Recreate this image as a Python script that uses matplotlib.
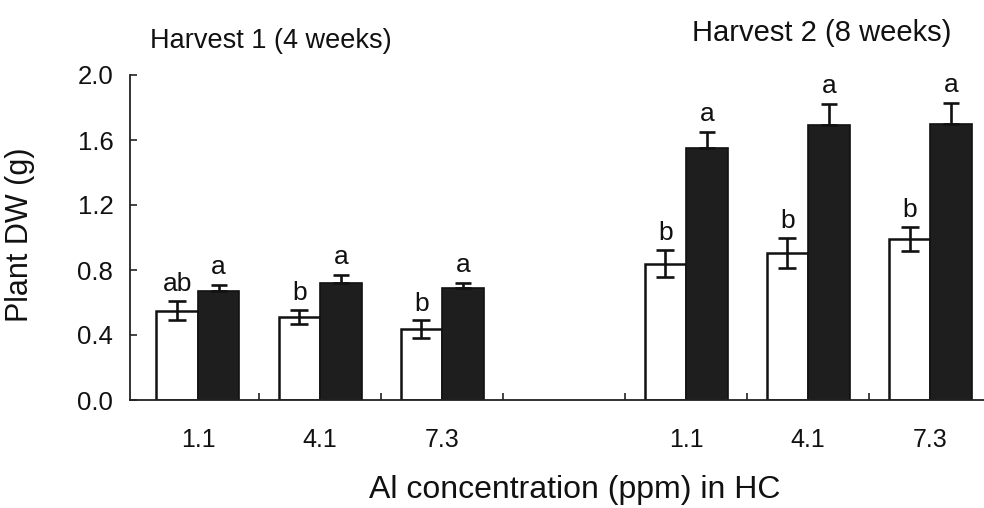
import numpy as np
import matplotlib
matplotlib.use("Agg")
import matplotlib.pyplot as plt

plt.rcParams['font.family'] = ['Liberation Sans', 'DejaVu Sans']

# Al levels in the hydroponic culture, two harvests
al_levels = ["1.1", "4.1", "7.3", "1.1", "4.1", "7.3"]
group_pos = [0, 1, 2, 4, 5, 6]

# plant dry weight (g): open bars / filled bars
dw_open = [0.55, 0.51, 0.435, 0.84, 0.905, 0.99]
se_open = [0.06, 0.045, 0.055, 0.085, 0.095, 0.075]
dw_filled = [0.67, 0.72, 0.69, 1.55, 1.69, 1.70]
se_filled = [0.035, 0.05, 0.03, 0.10, 0.13, 0.13]

# letters from the mean separation
let_open = ["ab", "b", "b", "b", "b", "b"]
let_filled = ["a", "a", "a", "a", "a", "a"]

harvests = ["Harvest 1 (4 weeks)", "Harvest 2 (8 weeks)"]

fig = plt.figure(figsize=(9.84, 5.08), dpi=100)
ax = fig.add_axes([130/984, 1-400/508, 854/984, 325/508])

w = 0.34
x = np.array(group_pos, dtype=float)
ax.bar(x - w/2, dw_open, w, color="white", edgecolor="#111111", linewidth=1.8, zorder=2)
ax.bar(x + w/2, dw_filled, w, color="#1e1e1e", edgecolor="#111111", linewidth=1.2, zorder=2)
ax.errorbar(x - w/2, dw_open, yerr=se_open, fmt="none", ecolor="#111111",
            elinewidth=1.9, capsize=6.5, capthick=1.9, zorder=3)
# filled bars: only the upper half of the bar shows
ax.errorbar(x + w/2, dw_filled, yerr=[np.zeros(len(x)), se_filled], fmt="none",
            ecolor="#111111", elinewidth=1.9, capsize=6, capthick=1.9, zorder=3)

for i in range(len(x)):
    ax.annotate(let_open[i], (x[i] - w/2, dw_open[i] + se_open[i]),
                xytext=(0, 7), textcoords="offset points",
                ha="center", va="baseline", fontsize=19, color="#111111")
    ax.annotate(let_filled[i], (x[i] + w/2, dw_filled[i] + se_filled[i]),
                xytext=(0, 8), textcoords="offset points",
                ha="center", va="baseline", fontsize=19, color="#111111")

ax.set_xlim(-0.557, 6.44)
ax.set_ylim(0, 2.0)
ax.set_yticks(np.arange(0, 2.01, 0.4))
ax.set_yticklabels(["%.1f" % v for v in np.arange(0, 2.01, 0.4)])
ax.set_xticks(group_pos)
ax.set_xticklabels(al_levels)
ax.set_xticks([0.5, 1.5, 2.5, 3.5, 4.5, 5.5], minor=True)

ax.tick_params(axis="y", direction="in", length=5, width=1.1, pad=12,
               labelsize=18.5, colors="#111111")
ax.tick_params(axis="x", which="major", length=0, pad=20, labelsize=18, colors="#111111")
ax.tick_params(axis="x", which="minor", direction="in", length=5, width=1.1, colors="#111111")

for s in ["top", "right"]:
    ax.spines[s].set_visible(False)
for s in ["left", "bottom"]:
    ax.spines[s].set_linewidth(1.3)
    ax.spines[s].set_color("#222222")

ax.set_ylabel("Plant DW (g)", fontsize=22, color="#111111")
ax.yaxis.set_label_coords(-0.111, 0.508)
ax.set_xlabel("Al concentration (ppm) in HC", fontsize=23, color="#111111", va="center")
ax.xaxis.set_label_coords(0.521, -0.277)

fig.text(150/984, 1-48/508, harvests[0], fontsize=19.5, ha="left", va="baseline", color="#111111")
fig.text(692/984, 1-41/508, harvests[1], fontsize=21, ha="left", va="baseline", color="#111111")

fig.savefig("out.png", dpi=100, facecolor="white")
